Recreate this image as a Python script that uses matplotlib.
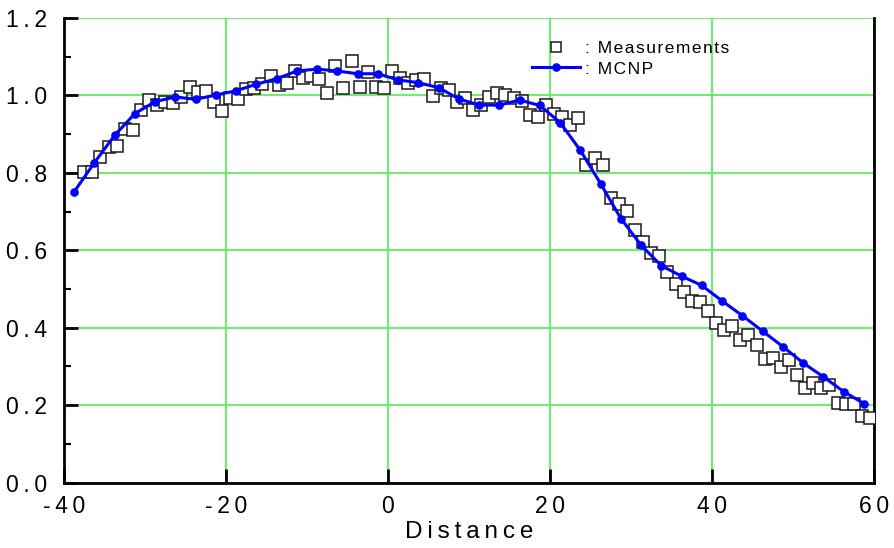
import numpy as np
import matplotlib
matplotlib.use("Agg")
import matplotlib.pyplot as plt
from matplotlib.ticker import MultipleLocator, FixedLocator, FuncFormatter
from matplotlib.lines import Line2D

plt.rcParams['font.family'] = ['Liberation Sans', 'DejaVu Sans']

THIN = '\u2009'
HAIR = '\u200a'


def spaced(text, sep=THIN):
    """Widen the letter spacing with narrow spaces."""
    return sep.join(text)


# Measured profile, one reading per unit of distance
meas_x = np.arange(-37.5, 60.0, 1.0)
meas_y = [
    0.803, 0.803, 0.840, 0.866, 0.870, 0.913, 0.911, 0.963, 0.987, 0.975,
    0.983, 0.980, 0.997, 1.023, 1.010, 1.012, 0.982, 0.960, 0.994, 0.990,
    1.016, 1.020, 1.030, 1.050, 1.028, 1.033, 1.063, 1.046, 1.049, 1.042,
    1.005, 1.076, 1.018, 1.089, 1.023, 1.061, 1.023, 1.019, 1.063, 1.044,
    1.031, 1.040, 1.043, 0.999, 1.019, 1.014, 0.984, 0.993, 0.963, 0.975,
    0.997, 1.006, 1.001, 0.993, 0.986, 0.950, 0.944, 0.975, 0.952, 0.945,
    0.924, 0.941, 0.819, 0.838, 0.819, 0.736, 0.720, 0.702, 0.652, 0.622,
    0.592, 0.586, 0.545, 0.512, 0.493, 0.470, 0.467, 0.443, 0.411, 0.394,
    0.404, 0.368, 0.381, 0.355, 0.318, 0.321, 0.299, 0.317, 0.278, 0.245,
    0.258, 0.245, 0.252, 0.205, 0.203, 0.203, 0.173, 0.167,
]

# MCNP tally bins (2.5 units wide)
mcnp_x = np.arange(-38.75, 60.0, 2.5)
mcnp_y = [
    0.751, 0.826, 0.897, 0.953, 0.984, 0.996, 0.990, 1.001, 1.012, 1.029,
    1.043, 1.063, 1.068, 1.063, 1.056, 1.056, 1.040, 1.033, 1.020, 0.991,
    0.975, 0.975, 0.988, 0.974, 0.930, 0.858, 0.772, 0.682, 0.613, 0.560,
    0.533, 0.509, 0.469, 0.431, 0.391, 0.351, 0.309, 0.273, 0.235, 0.204,
]

x_ticks = [-40, -20, 0, 20, 40, 60]
y_ticks = [0.0, 0.2, 0.4, 0.6, 0.8, 1.0, 1.2]

W, H = 894, 548
fig = plt.figure(figsize=(W / 100, H / 100), dpi=100)
ax = fig.add_axes([64 / W, 65.5 / H, 810 / W, 464.5 / H])

ax.set_xlim(-40, 60)
ax.set_ylim(0, 1.2)

ax.xaxis.set_major_locator(FixedLocator(x_ticks))
ax.yaxis.set_major_locator(FixedLocator(y_ticks))
ax.yaxis.set_minor_locator(MultipleLocator(0.1))
ax.xaxis.set_major_formatter(FuncFormatter(lambda v, p: spaced(f"{v:.0f}")))
ax.yaxis.set_major_formatter(FuncFormatter(lambda v, p: spaced(f"{v:.1f}")))

ax.grid(True, which='major', color='#5cf05c', lw=1.3)
ax.set_axisbelow(True)

ax.plot(meas_x, meas_y, ls='none', marker='s', ms=8.6, mfc='white',
        mec='#1a1a1a', mew=1.1, zorder=3)
ax.plot(mcnp_x, mcnp_y, color='#0000ff', lw=2.2, marker='o', ms=5.2,
        zorder=4)

for side in ('left', 'bottom', 'right'):
    ax.spines[side].set_linewidth(2)
ax.spines['top'].set_visible(False)

ax.tick_params(axis='both', which='major', direction='in', length=10,
               width=2, labelsize=16.5, top=False, right=False)
ax.tick_params(axis='y', which='major', pad=12)
ax.tick_params(axis='x', which='major', pad=9)
ax.tick_params(axis='y', which='minor', direction='in', length=5, width=1.5)

ax.set_xlabel(spaced("Distance"), fontsize=17.5, labelpad=2)

handles = [
    Line2D([], [], ls='none', marker='s', ms=7, mfc='white', mec='#1a1a1a',
           mew=1.1),
    Line2D([], [], color='#0000ff', lw=2.2, marker='o', ms=5.2),
]
labels = [spaced(": Measurements", HAIR), spaced(": MCNP", HAIR)]
ax.legend(handles, labels, loc='upper left',
          bbox_to_anchor=(532 / W, 1 - 41 / H), bbox_transform=fig.transFigure,
          frameon=False, fontsize=12.5, handlelength=2.75, handletextpad=0.3,
          borderpad=0, borderaxespad=0, labelspacing=0.3)

fig.savefig("out.png", dpi=100)
